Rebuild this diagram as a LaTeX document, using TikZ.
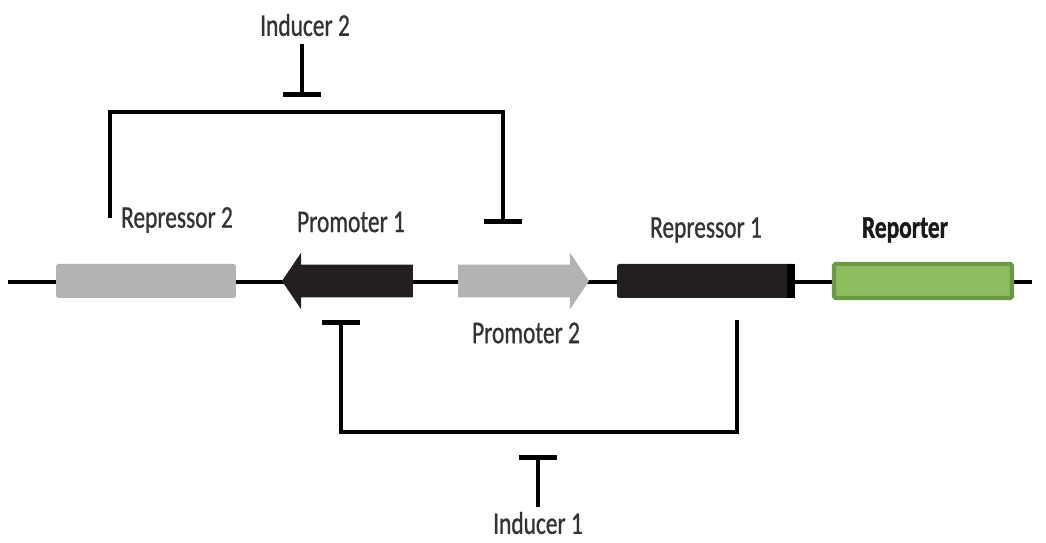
\documentclass[tikz,border=0pt]{standalone}
\usepackage{fontspec}
\newfontfamily\partfont[FakeStretch=0.74,FakeBold=0.8]{Carlito}
\newfontfamily\partfontbold[FakeStretch=0.74,FakeBold=1.2]{Carlito Bold}
\usetikzlibrary{shapes.arrows,arrows.meta}
\definecolor{lightpart}{HTML}{B2B3B5}
\definecolor{darkpart}{HTML}{231F20}
\definecolor{gfp}{HTML}{8DBD5E}
\definecolor{gfpedge}{HTML}{6A9A44}

\begin{document}
\begin{tikzpicture}[x=0.02cm,y=-0.02cm,
    part/.style={rectangle,inner sep=0pt,minimum width=3.6cm,minimum height=0.68cm,rounded corners=1pt},
    prom/.style={single arrow,inner xsep=0pt,inner ysep=0.32cm,minimum height=2.62cm,
      single arrow head extend=0.24cm,single arrow tip angle=112},
    lbl/.style={font=\partfont\fontsize{18}{21}\selectfont,text=black!80},
    wire/.style={line width=1.9pt},
    blocked/.style={wire,-{Bar[width=0.76cm,line width=3pt]}}]
    \useasboundingbox (0,0) rectangle (1046,543);

    % backbone
    \coordinate (dna start) at (8,282);
    \coordinate (dna end) at (1032,282);
    \draw[line width=2.2pt] (dna start) -- (dna end);

    % parts on the strand
    \node[part, fill=lightpart] (rep2) at (146,281) {};
    \node[prom, fill=darkpart, shape border rotate=180] (prom1) at (353,281) {};
    \node[prom, fill=lightpart] (prom2) at (518,281) {};
    \node[part, fill=darkpart, minimum width=3.56cm] (rep1) at (706,281) {};
    \fill[black] (rep1.north east) ++(-8,0) rectangle (rep1.south east);
    \node[part, fill=gfp, draw=gfpedge, line width=2.5pt, minimum width=3.56cm] (gfp) at (923,281) {};

    % labels
    \node[lbl] (rep2 lbl) at (177,220) {Repressor 2};
    \node[lbl] (prom1 lbl) at (351,222) {Promoter 1};
    \node[lbl] (rep1 lbl) at (706,230) {Repressor 1};
    \node[lbl, font=\partfontbold\fontsize{18}{21}\selectfont, text=black!90] (gfp lbl) at (905,230) {Reporter};
    \node[lbl] (prom2 lbl) at (526,333) {Promoter 2};
    \node[lbl] (ind2) at (305,25) {Inducer 2};
    \node[lbl] (ind1) at (538,523) {Inducer 1};

    % repression links
    \coordinate (rep2 out) at (110,218);
    \coordinate (prom2 site) at (503,224);
    \coordinate (top rail) at (0,112);
    \coordinate (rep1 out) at (737,320);
    \coordinate (prom1 site) at (341,320);
    \coordinate (low rail) at (0,432);

    \draw[blocked] (rep2 out) -- (rep2 out |- top rail) -| (prom2 site);
    \draw[blocked] (rep1 out) -- (rep1 out |- low rail) -| (prom1 site);

    % inducers act on the repressors
    \draw[blocked] (302,44) -- (302,97);
    \draw[blocked] (538,507) -- (538,455);
\end{tikzpicture}
\end{document}
